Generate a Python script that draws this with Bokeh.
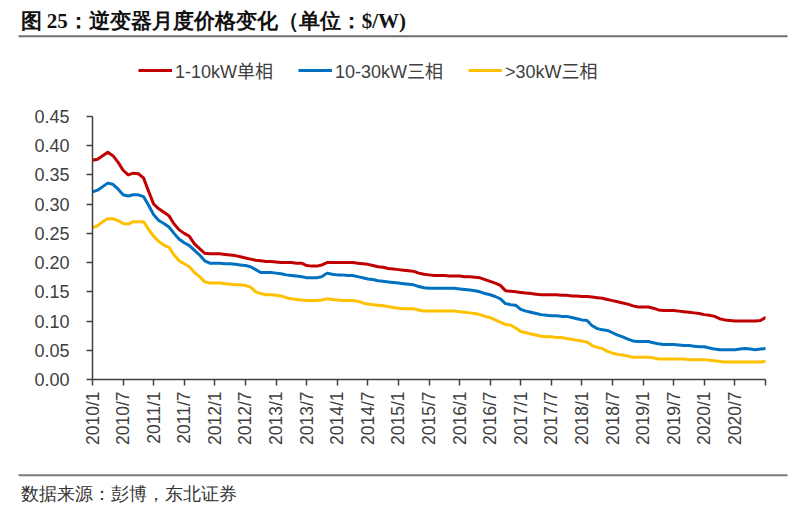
from bokeh.plotting import figure
from bokeh.layouts import column
from bokeh.models import Legend, LegendItem, FixedTicker, Range1d, ColumnDataSource
from bokeh.embed import file_html
from bokeh.resources import INLINE

# ---------------- data ----------------
months = [f"{y}/{m}" for y in range(2010, 2022) for m in range(1, 13)][:133]

single_1_10kw = [
    0.375, 0.377, 0.383, 0.389, 0.383, 0.372, 0.358, 0.350, 0.353, 0.352,
    0.345, 0.322, 0.300, 0.292, 0.286, 0.280, 0.266, 0.256, 0.250, 0.245,
    0.232, 0.224, 0.216, 0.215, 0.215, 0.215, 0.214, 0.213, 0.212, 0.210,
    0.208, 0.206, 0.204, 0.203, 0.202, 0.202, 0.201, 0.200, 0.200, 0.200,
    0.199, 0.199, 0.195, 0.194, 0.194, 0.196, 0.200, 0.200, 0.200, 0.200,
    0.200, 0.200, 0.199, 0.198, 0.197, 0.195, 0.193, 0.192, 0.190, 0.189,
    0.188, 0.187, 0.186, 0.185, 0.182, 0.180, 0.179, 0.178, 0.178, 0.178,
    0.177, 0.177, 0.177, 0.176, 0.176, 0.175, 0.174, 0.171, 0.168, 0.165,
    0.161, 0.152, 0.151, 0.150, 0.149, 0.148, 0.147, 0.146, 0.145, 0.145,
    0.145, 0.145, 0.144, 0.144, 0.143, 0.143, 0.142, 0.142, 0.141, 0.140,
    0.139, 0.137, 0.135, 0.133, 0.131, 0.129, 0.126, 0.124, 0.124, 0.124,
    0.122, 0.119, 0.118, 0.118, 0.118, 0.117, 0.116, 0.115, 0.114, 0.113,
    0.111, 0.110, 0.108, 0.104, 0.102, 0.101, 0.100, 0.100, 0.100, 0.100,
    0.100, 0.101, 0.106,
]

three_10_30kw = [
    0.321, 0.324, 0.330, 0.336, 0.334, 0.326, 0.316, 0.314, 0.316, 0.316,
    0.313, 0.298, 0.282, 0.272, 0.267, 0.261, 0.250, 0.240, 0.234, 0.229,
    0.221, 0.213, 0.203, 0.199, 0.199, 0.199, 0.198, 0.198, 0.197, 0.196,
    0.195, 0.193, 0.188, 0.183, 0.183, 0.183, 0.182, 0.181, 0.179, 0.178,
    0.177, 0.176, 0.174, 0.174, 0.174, 0.176, 0.182, 0.180, 0.179, 0.179,
    0.178, 0.178, 0.176, 0.174, 0.172, 0.171, 0.169, 0.168, 0.167, 0.166,
    0.165, 0.164, 0.163, 0.162, 0.159, 0.157, 0.156, 0.156, 0.156, 0.156,
    0.156, 0.156, 0.155, 0.154, 0.153, 0.152, 0.150, 0.147, 0.145, 0.142,
    0.138, 0.130, 0.128, 0.127, 0.120, 0.117, 0.115, 0.113, 0.111, 0.110,
    0.109, 0.109, 0.108, 0.108, 0.106, 0.104, 0.102, 0.101, 0.092, 0.087,
    0.085, 0.084, 0.080, 0.076, 0.073, 0.069, 0.066, 0.065, 0.065, 0.065,
    0.063, 0.061, 0.060, 0.060, 0.060, 0.059, 0.058, 0.058, 0.057, 0.056,
    0.056, 0.054, 0.052, 0.051, 0.051, 0.051, 0.051, 0.052, 0.053, 0.052,
    0.051, 0.052, 0.053,
]

three_above_30kw = [
    0.260, 0.263, 0.270, 0.275, 0.275, 0.272, 0.267, 0.266, 0.270, 0.270,
    0.270, 0.257, 0.245, 0.236, 0.230, 0.226, 0.213, 0.203, 0.198, 0.193,
    0.183, 0.176, 0.167, 0.165, 0.165, 0.165, 0.164, 0.163, 0.162, 0.162,
    0.161, 0.158, 0.150, 0.147, 0.145, 0.145, 0.144, 0.143, 0.140, 0.138,
    0.137, 0.136, 0.135, 0.135, 0.135, 0.136, 0.138, 0.137, 0.136, 0.135,
    0.135, 0.135, 0.134, 0.131, 0.129, 0.128, 0.127, 0.126, 0.125, 0.123,
    0.122, 0.121, 0.121, 0.121, 0.119, 0.117, 0.117, 0.117, 0.117, 0.117,
    0.117, 0.117, 0.116, 0.115, 0.114, 0.113, 0.111, 0.108, 0.106, 0.102,
    0.098, 0.094, 0.093, 0.088, 0.082, 0.080, 0.078, 0.076, 0.074, 0.073,
    0.073, 0.072, 0.072, 0.070, 0.069, 0.067, 0.066, 0.064, 0.058, 0.055,
    0.053, 0.048, 0.045, 0.043, 0.042, 0.040, 0.038, 0.038, 0.038, 0.038,
    0.037, 0.035, 0.035, 0.035, 0.035, 0.035, 0.035, 0.034, 0.034, 0.034,
    0.034, 0.033, 0.032, 0.031, 0.030, 0.030, 0.030, 0.030, 0.030, 0.030,
    0.030, 0.030, 0.031,
]

series_names = ["1-10kW单相", "10-30kW三相", ">30kW三相"]
series_colors = ["#C00000", "#0070C0", "#FFC000"]
y_ticks = [0.0, 0.05, 0.10, 0.15, 0.20, 0.25, 0.30, 0.35, 0.40, 0.45]

title_text = "图 25：逆变器月度价格变化（单位：$/W)"
source_text = "数据来源：彭博，东北证券"

# ---------------- layout ----------------
W = 796
HEAD_H, MAIN_H, FOOT_H = 100, 370, 41
X_MAX = len(months) - 1
Y_MAX = 0.45

font_latin = "Liberation Sans, Noto Sans CJK SC"
axis_color = "#404040"
label_color = "#404040"


def blank(h):
    f = figure(width=W, height=h, output_backend="svg", toolbar_location=None,
               x_range=Range1d(0, W), y_range=Range1d(h, 0),
               x_axis_type=None, y_axis_type=None,
               min_border=0, min_border_left=0, min_border_right=0,
               min_border_top=0, min_border_bottom=0)
    f.outline_line_color = None
    f.grid.visible = False
    f.border_fill_color = "white"
    f.background_fill_color = "white"
    f.frame_align = False
    return f


# header: title, rule, legend
head = blank(HEAD_H)
head.text(x=[20], y=[20], text=[title_text], text_font_size="21px",
          text_font_style="bold", text_color="#111111", text_baseline="middle",
          text_align="left", text_font="Noto Sans CJK SC")
head.quad(left=[18], right=[787], top=[34.7], bottom=[36.7],
          fill_color="#6e6e6e", line_color=None)
dummy = []
for color in series_colors:
    dummy.append(head.line(x=[-50, -40], y=[-50, -50], line_color=color, line_width=3))
legend = Legend(items=[LegendItem(label=n, renderers=[r]) for n, r in zip(series_names, dummy)],
                orientation="horizontal", location=(138, 17),
                glyph_width=34, glyph_height=20, label_standoff=3, spacing=25,
                padding=0, margin=0, label_text_font=font_latin,
                label_text_font_size="18px", label_text_color=label_color,
                border_line_alpha=0, background_fill_alpha=0, label_height=20)
head.add_layout(legend)

# main chart
FL, FT = 92, 16
FW, FH = 673, 263
p = figure(width=W, height=MAIN_H, output_backend="svg", toolbar_location=None,
           x_range=Range1d(0, X_MAX), y_range=Range1d(0, Y_MAX),
           min_border_left=FL, min_border_right=W - FL - FW,
           min_border_top=FT, min_border_bottom=MAIN_H - FT - FH)
p.outline_line_color = None
p.grid.visible = False
p.background_fill_color = "white"
p.border_fill_color = "white"
p.frame_align = False

src = ColumnDataSource(dict(x=list(range(len(months))), a=single_1_10kw,
                            b=three_10_30kw, c=three_above_30kw))
for col, color in zip(["a", "b", "c"], series_colors):
    p.line("x", col, source=src, line_color=color, line_width=3,
           line_join="round", line_cap="round")

tick_idx = list(range(0, X_MAX + 1, 6))
p.xaxis.ticker = FixedTicker(ticks=tick_idx)
p.xaxis.major_label_overrides = {i: (months[i] if i < X_MAX else "") for i in tick_idx}
p.xaxis.major_label_orientation = 1.5707963
p.xaxis.major_label_text_font = font_latin
p.xaxis.major_label_text_font_size = "17.5px"
p.xaxis.major_label_text_color = label_color
p.xaxis.major_label_standoff = 6
p.xaxis.major_tick_out = 6
p.xaxis.major_tick_in = 0
p.xaxis.minor_tick_line_color = None
p.xaxis.axis_line_color = axis_color
p.xaxis.major_tick_line_color = axis_color
p.xaxis.axis_line_width = 1.5
p.xaxis.major_tick_line_width = 1.5

p.yaxis.ticker = FixedTicker(ticks=y_ticks)
p.yaxis.major_label_overrides = {t: f"{t:.2f}" for t in y_ticks}
p.yaxis.major_label_text_font = font_latin
p.yaxis.major_label_text_font_size = "18px"
p.yaxis.major_label_text_color = label_color
p.yaxis.major_label_standoff = 17
p.yaxis.major_tick_out = 6
p.yaxis.major_tick_in = 0
p.yaxis.minor_tick_line_color = None
p.yaxis.axis_line_color = axis_color
p.yaxis.major_tick_line_color = axis_color
p.yaxis.axis_line_width = 1.5
p.yaxis.major_tick_line_width = 1.5

# footer: rule and source
foot = blank(FOOT_H)
foot.quad(left=[18], right=[787], top=[3.8], bottom=[5.8],
          fill_color="#7a7a7a", line_color=None)
foot.text(x=[20], y=[23], text=[source_text], text_font_size="17.5px",
          text_color="#333333", text_baseline="middle", text_align="left",
          text_font="Noto Sans CJK SC")

layout = column(head, p, foot, spacing=0)
open("out.html", "w").write(file_html(layout, INLINE))
